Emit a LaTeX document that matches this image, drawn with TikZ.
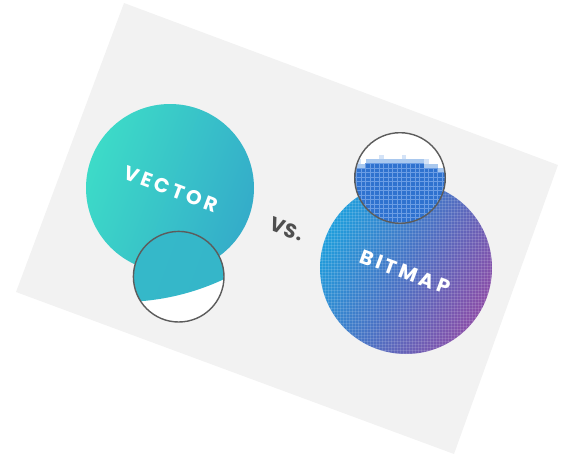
\documentclass[tikz,border=0pt]{standalone}
\usepackage{fontspec}
\setmainfont{Poppins}
\usepackage{tikz}

\definecolor{cardgray}{HTML}{F2F2F2}
\definecolor{tealA}{HTML}{3DDBC8}
\definecolor{tealB}{HTML}{34ACC9}
\definecolor{tealC}{HTML}{38C4CA}
\definecolor{tealD}{HTML}{34B3C9}
\definecolor{bmBlue}{HTML}{1F9EDC}
\definecolor{bmMid}{HTML}{4A72C4}
\definecolor{bmPurple}{HTML}{8A4EA8}
\definecolor{pixBlue}{HTML}{2F72CF}
\definecolor{pixLine}{HTML}{6B9DE4}
\definecolor{pixEdge}{HTML}{A9C8EE}
\definecolor{lensgray}{HTML}{5C5C5C}
\definecolor{vsgray}{HTML}{4F4F4F}

\begin{document}
\begin{tikzpicture}[x=1pt, y=-1pt,
	lens/.style={draw=lensgray, line width=1.4pt},
	word/.style={font=\fontsize{20}{20}\selectfont\bfseries\addfontfeature{LetterSpace=18}, rotate=-20.5, inner sep=0pt},
	vsword/.style={font=\fontsize{20}{20}\selectfont\bfseries\addfontfeature{LetterSpace=4}, rotate=-20.5, inner sep=0pt}]
	\useasboundingbox (0, 0) rectangle (563, 455);

	\fill[cardgray] (124, 3) -- (558, 165) -- (454, 454) -- (16, 292) -- cycle;

	\coordinate (vectorc) at (170, 188);
	\coordinate (vlens) at (178.7, 276.7);
	\coordinate (bitmapc) at (406, 268);
	\coordinate (blens) at (400, 178);

	\shade[left color=tealA, right color=tealB, shading angle=69.5] (vectorc) circle (84pt);
	\node[word, text=white] (vector) at (171, 189) {VECTOR};

	\begin{scope}
		\clip (vlens) circle (45.3pt);
		\fill[white] (vlens) circle (46pt);
		\shade[left color=tealC, right color=tealD, shading angle=69.5] (121, 59) circle (243pt);
	\end{scope}
	\draw[lens] (vlens) circle (45.3pt);

	\node[vsword, text=vsgray] (vs) at (287, 229) {VS.};

	\shade[left color=bmBlue, right color=bmPurple, middle color=bmMid, shading angle=62] (bitmapc) circle (86pt);
	\node[word, text=white] (bitmap) at (405, 272) {BITMAP};
	\begin{scope}
		\clip (bitmapc) circle (86pt);
		\foreach \g in {0,3,...,180} {
			\draw[white, opacity=.13, line width=.5pt] (319+\g, 176) -- (319+\g, 358);
			\draw[white, opacity=.13, line width=.5pt] (315, 179+\g) -- (495, 179+\g);
		}
	\end{scope}

	\begin{scope}
		\clip (blens) circle (45.3pt);
		\fill[white] (blens) circle (46pt);
		\foreach \i in {0,...,21} {
			\pgfmathsetmacro{\xl}{352+4.5*\i}
			\pgfmathsetmacro{\yt}{270-10*sqrt(121-((\xl+2.25-395)/10)^2)}
			\pgfmathsetmacro{\yq}{150+4.5*ceil((\yt-150)/4.5)}
			\fill[pixEdge] (\xl, \yq-4.5) rectangle ++(4.5, 4.5);
			\ifnum\i=1 \fill[pixEdge!50] (\xl, \yq-9) rectangle ++(4.5, 4.5); \fi
			\ifnum\i=6 \fill[pixEdge!50] (\xl, \yq-9) rectangle ++(4.5, 4.5); \fi
			\ifnum\i=11 \fill[pixEdge!50] (\xl, \yq-9) rectangle ++(4.5, 4.5); \fi
			\ifnum\i=16 \fill[pixEdge!50] (\xl, \yq-9) rectangle ++(4.5, 4.5); \fi
			\foreach \j in {0,...,16} {
				\fill[pixBlue, draw=pixLine, line width=.4pt] (\xl, \yq+4.5*\j) rectangle ++(4.5, 4.5);
			}
		}
	\end{scope}
	\draw[lens] (blens) circle (45.3pt);
\end{tikzpicture}
\end{document}
